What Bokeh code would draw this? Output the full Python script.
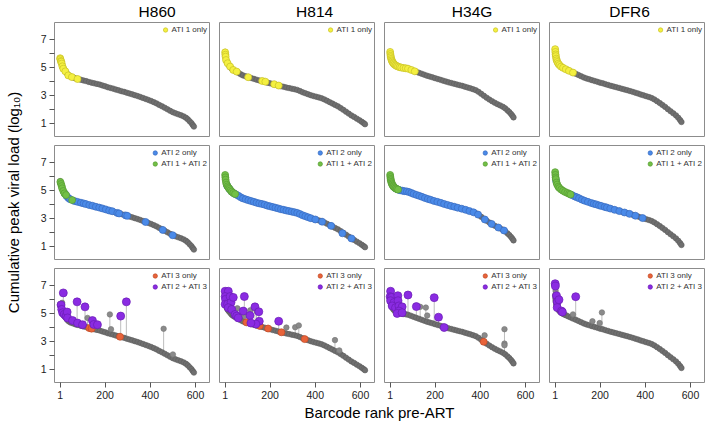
import math
from bokeh.plotting import figure
from bokeh.layouts import gridplot, column, row
from bokeh.models import FixedTicker, Legend, LegendItem, Range1d
from bokeh.core.properties import value
from bokeh.embed import file_html
from bokeh.resources import INLINE

FONT = "Liberation Sans"
NAMES = ["H860", "H814", "H34G", "DFR6"]
X_TICKS = [1, 200, 400, 600]
Y_TICKS = [1, 3, 5, 7]
Y_MINOR = [2, 4, 6]
X_TITLE = "Barcode rank pre-ART"
Y_TITLE = "Cumulative peak viral load (log\u2081\u2080)"
ROW_LABELS = [["ATI 1 only"], ["ATI 2 only", "ATI 1 + ATI 2"], ["ATI 3 only", "ATI 2 + ATI 3"]]

# ---------------- gray pre-ART curves (rank, log10 VL) ----------------
H860_rank = [1,2,3,4,6,8,10,13,16,20,25,30,36,43,50,60,70,80,92,104,116,128,140,152,164,176,188,200,212,224,236,248,260,272,284,296,308,320,332,344,356,368,380,392,404,416,428,440,452,464,476,488,500,512,524,536,548,558,566,574,582,588,593]
H860_vl = [5.65,5.58,5.5,5.45,5.4,5.27,5.12,4.98,4.88,4.8,4.7,4.58,4.46,4.38,4.32,4.26,4.2,4.16,4.11,4.06,4.01,3.95,3.9,3.85,3.81,3.76,3.7,3.64,3.57,3.52,3.47,3.4,3.35,3.29,3.24,3.18,3.12,3.06,3.0,2.94,2.87,2.8,2.73,2.66,2.58,2.5,2.41,2.3,2.2,2.1,1.99,1.88,1.78,1.7,1.63,1.56,1.48,1.38,1.27,1.14,1.0,0.86,0.75]

H814_rank = [1,2,3,4,6,8,10,13,16,20,25,30,36,43,50,60,70,80,92,104,116,128,140,152,164,176,188,200,212,224,236,248,260,272,284,296,308,320,332,344,356,368,380,392,404,416,428,440,452,464,476,488,500,512,524,536,548,560,572,584,596,606,614,620]
H814_vl = [6.1,5.92,5.76,5.62,5.48,5.4,5.33,5.26,5.18,5.1,5.0,4.9,4.82,4.75,4.69,4.6,4.5,4.42,4.35,4.29,4.23,4.17,4.11,4.06,4.02,3.97,3.9,3.85,3.8,3.75,3.7,3.64,3.6,3.55,3.51,3.47,3.43,3.38,3.3,3.21,3.14,3.07,3.0,2.94,2.89,2.84,2.78,2.7,2.6,2.5,2.4,2.3,2.2,2.08,1.95,1.82,1.68,1.55,1.44,1.32,1.2,1.09,1.0,0.92]

H34G_rank = [1,2,3,4,6,8,10,13,16,20,25,30,36,43,50,60,70,80,92,104,116,128,140,152,164,176,188,200,212,224,236,248,260,272,284,296,308,320,332,344,356,368,380,392,404,416,428,440,452,464,476,488,500,510,520,528,536,542,547]
H34G_vl = [6.1,5.95,5.82,5.72,5.6,5.5,5.42,5.34,5.27,5.2,5.14,5.09,5.05,5.01,4.98,4.95,4.93,4.9,4.83,4.75,4.68,4.61,4.54,4.47,4.4,4.34,4.28,4.22,4.16,4.1,4.04,3.98,3.92,3.87,3.82,3.77,3.72,3.67,3.61,3.55,3.49,3.43,3.36,3.24,3.1,2.96,2.82,2.69,2.57,2.46,2.36,2.27,2.17,2.06,1.92,1.8,1.66,1.53,1.41]

DFR6_rank = [1,2,3,4,6,8,10,13,16,20,25,30,36,43,50,60,70,80,92,104,116,128,140,152,164,176,188,200,212,224,236,248,260,272,284,296,308,320,332,344,356,368,380,392,404,416,428,440,452,464,476,488,500,512,524,536,546,554,560]
DFR6_vl = [6.3,6.1,5.92,5.8,5.62,5.5,5.41,5.32,5.24,5.16,5.08,5.02,4.96,4.9,4.85,4.77,4.7,4.62,4.54,4.45,4.36,4.27,4.2,4.14,4.08,4.02,3.96,3.9,3.85,3.79,3.73,3.67,3.62,3.57,3.52,3.46,3.41,3.36,3.3,3.24,3.18,3.12,3.05,2.99,2.93,2.87,2.8,2.7,2.57,2.44,2.3,2.16,2.0,1.85,1.7,1.55,1.38,1.22,1.08]

# ---------------- H860 highlights ----------------
H860_ati1_r = [1,2,4,6,8,11,15,24,37,53,78]
H860_ati1_v = [5.65,5.58,5.45,5.4,5.27,5.07,4.9,4.71,4.42,4.3,4.16]
H860_ati2_r = [22,30,38,45,64,78,93,105,115,130,144,159,174,188,203,218,232,254,262,291,298,379,455,499]
H860_ati2_v = [4.76,4.58,4.44,4.36,4.23,4.17,4.11,4.06,4.01,3.94,3.89,3.82,3.76,3.7,3.63,3.55,3.5,3.38,3.34,3.2,3.17,2.73,2.16,1.78]
H860_ati12_r = [2,5,8,10,15,20,27,54]
H860_ati12_v = [5.6,5.45,5.3,5.14,4.95,4.78,4.66,4.3]
H860_ati3_r = [130,140,266]
H860_ati3_v = [3.94,3.9,3.32]
H860_ati23_r = [15,5,8,12,20,27,32,34,56,78,100,76,111,144,150,166,269,294]
H860_ati23_v = [6.46,5.6,5.28,5.04,4.92,4.8,5.09,4.67,4.48,4.3,4.18,5.82,5.46,4.48,4.2,4.18,4.8,5.82]
H860_up_r = [10,122,221,226,459,500]
H860_up_v = [5.75,4.67,4.92,3.86,3.89,2.05]
H860_stem_r = [10,15,76,111,122,144,221,269,294,459,500]
H860_stem_top = [5.75,6.46,5.82,5.46,4.67,4.48,4.92,4.8,5.82,3.89,2.05]
H860_stem_base = [5.12,4.9,4.18,4.03,3.98,3.88,3.55,3.31,3.19,2.15,1.78]

# ---------------- H814 highlights ----------------
H814_ati1_r = [1,2,3,5,12,23,37,52,103,165,179,218,238]
H814_ati1_v = [6.07,5.9,5.76,5.52,5.29,5.05,4.81,4.69,4.29,4.02,3.97,3.79,3.69]
H814_ati2_r = [10,20,30,40,50,60,70,80,92,104,116,128,140,152,164,176,188,200,212,224,236,248,260,272,284,296,308,320,332,344,356,368,380,400,430,470,520,560]
H814_ati2_v = [5.33,5.1,4.9,4.78,4.69,4.6,4.5,4.42,4.35,4.29,4.23,4.17,4.11,4.06,4.02,3.97,3.9,3.85,3.8,3.75,3.7,3.64,3.6,3.55,3.51,3.47,3.43,3.38,3.3,3.21,3.14,3.07,3.0,2.91,2.75,2.45,1.92,1.55]
H814_ati12_r = [1,2,3,5,8,12,16,20,25,30,37,45]
H814_ati12_v = [6.1,5.92,5.76,5.55,5.4,5.28,5.18,5.1,5.0,4.9,4.81,4.73]
H814_ati3_r = [95,154,191,250,353]
H814_ati3_v = [4.35,4.1,3.91,3.64,3.15]
H814_ati23_r = [1,15,1,3,23,1,12,27,37,15,30,45,52,59,86,81,111,133,150,152,137,115,238]
H814_ati23_v = [6.58,6.58,6.2,6.0,6.2,5.65,5.65,5.77,6.14,5.4,5.28,4.92,4.8,4.67,6.2,5.16,4.84,5.46,5.11,4.43,4.23,4.3,4.43]
H814_up_r = [55,78,112,140,86,272,311,327,487,506]
H814_up_v = [5.36,5.09,5.21,5.16,4.8,3.98,4.0,4.13,3.08,2.34]
H814_stem_r = [86,81,111,133,150,238,55,78,112,140,272,311,327,487,506]
H814_stem_top = [6.2,5.16,4.84,5.46,5.11,4.43,5.36,5.09,5.21,5.16,3.98,4.0,4.13,3.08,2.34]
H814_stem_base = [4.39,4.42,4.26,4.15,4.07,3.69,4.66,4.43,4.25,4.11,3.55,3.41,3.35,2.29,2.16]

# ---------------- H34G highlights ----------------
H34G_ati1_r = [1,2,3,4,6,8,10,13,16,20,25,30,36,43,50,60,70,80,95,110]
H34G_ati1_v = [6.1,5.95,5.82,5.72,5.6,5.5,5.42,5.34,5.27,5.2,5.14,5.09,5.05,5.01,4.98,4.95,4.93,4.9,4.81,4.71]
H34G_ati2_r = [16,25,36,45,55,65,75,85,95,105,118,130,142,155,168,180,195,210,225,240,255,270,285,300,318,335,352,370,390,420,450,480,505]
H34G_ati2_v = [5.27,5.14,5.05,5.0,4.97,4.94,4.92,4.87,4.81,4.74,4.67,4.6,4.53,4.45,4.38,4.32,4.24,4.17,4.1,4.02,3.95,3.88,3.82,3.75,3.68,3.6,3.51,3.42,3.26,2.91,2.59,2.33,2.12]
H34G_ati12_r = [1,2,3,4,6,8,10,13,16,20,25,30,36]
H34G_ati12_v = [6.1,5.95,5.82,5.72,5.6,5.5,5.42,5.34,5.27,5.2,5.14,5.09,5.05]
H34G_ati3_r = [415]
H34G_ati3_v = [2.96]
H34G_ati23_r = [3,1,7,35,3,18,36,10,25,40,54,40,32,54,80,117,196,215,240]
H34G_ati23_v = [6.58,6.19,6.14,6.26,5.9,5.77,5.9,5.53,5.4,5.53,5.46,5.16,4.99,5.04,6.31,5.48,6.12,4.72,3.98]
H34G_up_r = [134,159,165,419,507,507,507]
H34G_up_v = [5.46,5.41,4.84,3.42,3.86,2.83,2.71]
H34G_stem_r = [80,117,196,215,134,159,165,419,507]
H34G_stem_top = [6.31,5.48,6.12,4.72,5.46,5.41,4.84,3.42,3.86]
H34G_stem_base = [4.9,4.69,4.23,4.14,4.57,4.44,4.4,2.93,2.1]

# ---------------- DFR6 highlights ----------------
DFR6_ati1_r = [1,2,3,4,6,8,11,15,20,27,36,48,62,80]
DFR6_ati1_v = [6.3,6.1,5.92,5.8,5.62,5.5,5.38,5.26,5.16,5.05,4.96,4.86,4.75,4.62]
DFR6_ati2_r = [5,75,88,97,107,120,132,146,161,172,183,195,205,220,230,245,264,285,308,330,356,388]
DFR6_ati2_v = [5.7,4.66,4.56,4.5,4.43,4.33,4.25,4.17,4.09,4.03,3.99,3.92,3.88,3.81,3.76,3.69,3.6,3.51,3.41,3.31,3.18,3.01]
DFR6_ati12_r = [1,2,3,4,7,10,15,20,28,36,45,55,63,69]
DFR6_ati12_v = [6.3,6.1,5.92,5.8,5.55,5.41,5.26,5.16,5.05,4.96,4.88,4.81,4.75,4.7]
DFR6_ati3_r = []
DFR6_ati3_v = []
DFR6_ati23_r = [1,2,7,10,18,10,29,33,92]
DFR6_ati23_v = [7.12,6.95,6.26,5.82,5.97,5.41,5.16,5.09,6.19]
DFR6_up_r = [3,12,80,166,198,208]
DFR6_up_v = [6.6,5.6,4.92,4.43,4.3,5.06]
DFR6_stem_r = [92,208,166,198]
DFR6_stem_top = [6.19,5.06,4.43,4.3]
DFR6_stem_base = [4.53,3.86,4.06,3.9]

PANELS = {
    "H860": dict(curve=(H860_rank, H860_vl), ati1=(H860_ati1_r, H860_ati1_v), ati2=(H860_ati2_r, H860_ati2_v),
                 ati12=(H860_ati12_r, H860_ati12_v), ati3=(H860_ati3_r, H860_ati3_v), ati23=(H860_ati23_r, H860_ati23_v),
                 up=(H860_up_r, H860_up_v), stem=(H860_stem_r, H860_stem_top, H860_stem_base)),
    "H814": dict(curve=(H814_rank, H814_vl), ati1=(H814_ati1_r, H814_ati1_v), ati2=(H814_ati2_r, H814_ati2_v),
                 ati12=(H814_ati12_r, H814_ati12_v), ati3=(H814_ati3_r, H814_ati3_v), ati23=(H814_ati23_r, H814_ati23_v),
                 up=(H814_up_r, H814_up_v), stem=(H814_stem_r, H814_stem_top, H814_stem_base)),
    "H34G": dict(curve=(H34G_rank, H34G_vl), ati1=(H34G_ati1_r, H34G_ati1_v), ati2=(H34G_ati2_r, H34G_ati2_v),
                 ati12=(H34G_ati12_r, H34G_ati12_v), ati3=(H34G_ati3_r, H34G_ati3_v), ati23=(H34G_ati23_r, H34G_ati23_v),
                 up=(H34G_up_r, H34G_up_v), stem=(H34G_stem_r, H34G_stem_top, H34G_stem_base)),
    "DFR6": dict(curve=(DFR6_rank, DFR6_vl), ati1=(DFR6_ati1_r, DFR6_ati1_v), ati2=(DFR6_ati2_r, DFR6_ati2_v),
                 ati12=(DFR6_ati12_r, DFR6_ati12_v), ati3=(DFR6_ati3_r, DFR6_ati3_v), ati23=(DFR6_ati23_r, DFR6_ati23_v),
                 up=(DFR6_up_r, DFR6_up_v), stem=(DFR6_stem_r, DFR6_stem_top, DFR6_stem_base)),
}

STYLE = {
    "ati1": ("#f4f040", "#c9c226", 7),
    "ati2": ("#4a8ae8", "#3a6cc0", 7),
    "ati12": ("#72c046", "#589c34", 7),
    "ati3": ("#e8633a", "#c24a26", 7),
    "ati23": ("#8a2be2", "#6a1db4", 8),
}
ROW_KEYS = [["ati1"], ["ati2", "ati12"], ["ati3", "ati23"]]

# ---------------- layout (pixels) ----------------
XR = (-24, 662)
YR = (0.04, 8.21)
YW = 24                      # strip holding the y title
HDR_H = 21                   # strip holding the column headings
XT_H = 21                    # strip holding the x title
COLW = [190, 165, 165, 161]
BL = [30, 5, 5, 5]
BR = [5, 5, 5, 1]
ROWH = [119, 123, 140]
BT = [1, 5, 5]
BB = [4, 4, 21]
LEG_PAD = [5, 2, 1]
TOTAL_H = HDR_H + sum(ROWH) + XT_H
HDR_BASE = 10.5              # heading baseline, px above the strip bottom
YT_BASE = 12.5               # y-title baseline, px from the strip left


def make_panel(r, c):
    name = NAMES[c]
    d = PANELS[name]
    p = figure(width=COLW[c], height=ROWH[r], x_range=Range1d(*XR), y_range=Range1d(*YR),
               output_backend="svg", toolbar_location=None,
               x_axis_location="below" if r == 2 else None,
               y_axis_location="left" if c == 0 else None,
               min_border_left=BL[c], min_border_right=BR[c], min_border_top=BT[r], min_border_bottom=BB[r],
               title=None)
    p.outline_line_color = "#8c8c8c"
    p.outline_line_width = 1
    p.xgrid.grid_line_color = None
    p.ygrid.grid_line_color = None
    p.background_fill_color = "white"
    p.border_fill_color = "white"
    if c == 0:
        ax = p.yaxis[0]
        ax.ticker = FixedTicker(ticks=Y_TICKS, minor_ticks=Y_MINOR)
        ax.axis_line_color = None
        ax.major_tick_in = 0
        ax.major_tick_out = 5
        ax.minor_tick_in = 0
        ax.minor_tick_out = 5
        ax.major_tick_line_color = "#555555"
        ax.minor_tick_line_color = "#555555"
        ax.major_label_text_font = FONT
        ax.major_label_text_font_size = "10.5px"
        ax.major_label_text_color = "#222222"
        ax.major_label_standoff = 3
    if r == 2:
        ax = p.xaxis[0]
        ax.ticker = FixedTicker(ticks=X_TICKS, minor_ticks=[])
        ax.axis_line_color = None
        ax.major_tick_in = 0
        ax.major_tick_out = 5
        ax.minor_tick_out = 0
        ax.major_tick_line_color = "#555555"
        ax.major_label_text_font = FONT
        ax.major_label_text_font_size = "10.5px"
        ax.major_label_text_color = "#222222"
        ax.major_label_standoff = 3

    if r == 2:
        sr, st, sb = d["stem"]
        p.segment(x0=sr, y0=st, x1=sr, y1=sb, line_color="#bdbdbd", line_width=1)

    cr, cv = d["curve"]
    p.scatter(cr, cv, size=5.5, fill_color="#6f6f6f", line_color="#5e5e5e", line_width=0.6)

    if r == 2:
        ur, uv = d["up"]
        p.scatter(ur, uv, size=5.5, fill_color="#8a8a8a", line_color="#747474", line_width=0.6)

    for key in ROW_KEYS[r]:
        fill, line, size = STYLE[key]
        xr, yv = d[key]
        p.scatter(xr, yv, size=size, fill_color=fill, line_color=line, line_width=0.7)

    items = []
    for key, label in zip(ROW_KEYS[r], ROW_LABELS[r]):
        fill, line, size = STYLE[key]
        proxy = p.scatter([math.nan], [math.nan], size=size, fill_color=fill, line_color=line, line_width=0.7)
        items.append(LegendItem(label=label, renderers=[proxy]))
    leg = Legend(items=items, location="top_right", margin=2, padding=LEG_PAD[r],
                 spacing=0, glyph_width=11, glyph_height=11, label_height=11, label_standoff=1,
                 label_text_font=FONT, label_text_font_size="8px", label_text_color="#333333",
                 border_line_color=None, background_fill_alpha=0)
    p.add_layout(leg)
    return p


def blank_strip(w, h, **kw):
    f = figure(width=w, height=h, output_backend="svg", toolbar_location=None, title=None,
               x_axis_location=None, y_axis_location=None,
               min_border_left=0, min_border_right=0, min_border_top=0, min_border_bottom=0, **kw)
    f.outline_line_color = None
    f.xgrid.grid_line_color = None
    f.ygrid.grid_line_color = None
    return f


rows = [[make_panel(r, c) for c in range(4)] for r in range(3)]
grid = gridplot(rows, toolbar_location=None)

# column headings: centred over each frame
hdr = blank_strip(sum(COLW), HDR_H, x_range=Range1d(0, sum(COLW)), y_range=Range1d(0, HDR_H))
left = 0
centres = []
for c in range(4):
    centres.append(left + BL[c] + (COLW[c] - BL[c] - BR[c]) / 2)
    left += COLW[c]
hdr.text(x=centres, y=[HDR_BASE] * 4, text=NAMES, text_align="center", text_baseline="alphabetic",
         text_font=value(FONT), text_font_size=value("15.5px"), text_color="#000000")

# x title
xfig = figure(width=sum(COLW), height=XT_H, output_backend="svg", toolbar_location=None,
              x_axis_location=None, y_axis_location=None,
              min_border_left=BL[0], min_border_right=BR[3], min_border_top=0, min_border_bottom=0,
              title=X_TITLE)
xfig.outline_line_color = None
xfig.xgrid.grid_line_color = None
xfig.ygrid.grid_line_color = None
xfig.title.align = "center"
xfig.title.vertical_align = "top"
xfig.title.text_font = FONT
xfig.title.text_font_size = "15px"
xfig.title.text_font_style = "normal"
xfig.title.text_color = "#000000"
xfig.title.standoff = 0

# y title (rotated), centred on the three rows of frames
yfig = blank_strip(YW, TOTAL_H, x_range=Range1d(0, YW), y_range=Range1d(0, TOTAL_H))
frames_top = HDR_H + BT[0]
frames_bottom = HDR_H + sum(ROWH) - BB[2]
y_mid = TOTAL_H - (frames_top + frames_bottom) / 2
yfig.text(x=[YT_BASE], y=[y_mid], text=[Y_TITLE], angle=math.pi / 2, text_align="center",
          text_baseline="alphabetic", text_font=value(FONT), text_font_size=value("15px"),
          text_color="#000000")

layout = row(yfig, column(hdr, grid, xfig))
open("out.html", "w").write(file_html(layout, INLINE))
